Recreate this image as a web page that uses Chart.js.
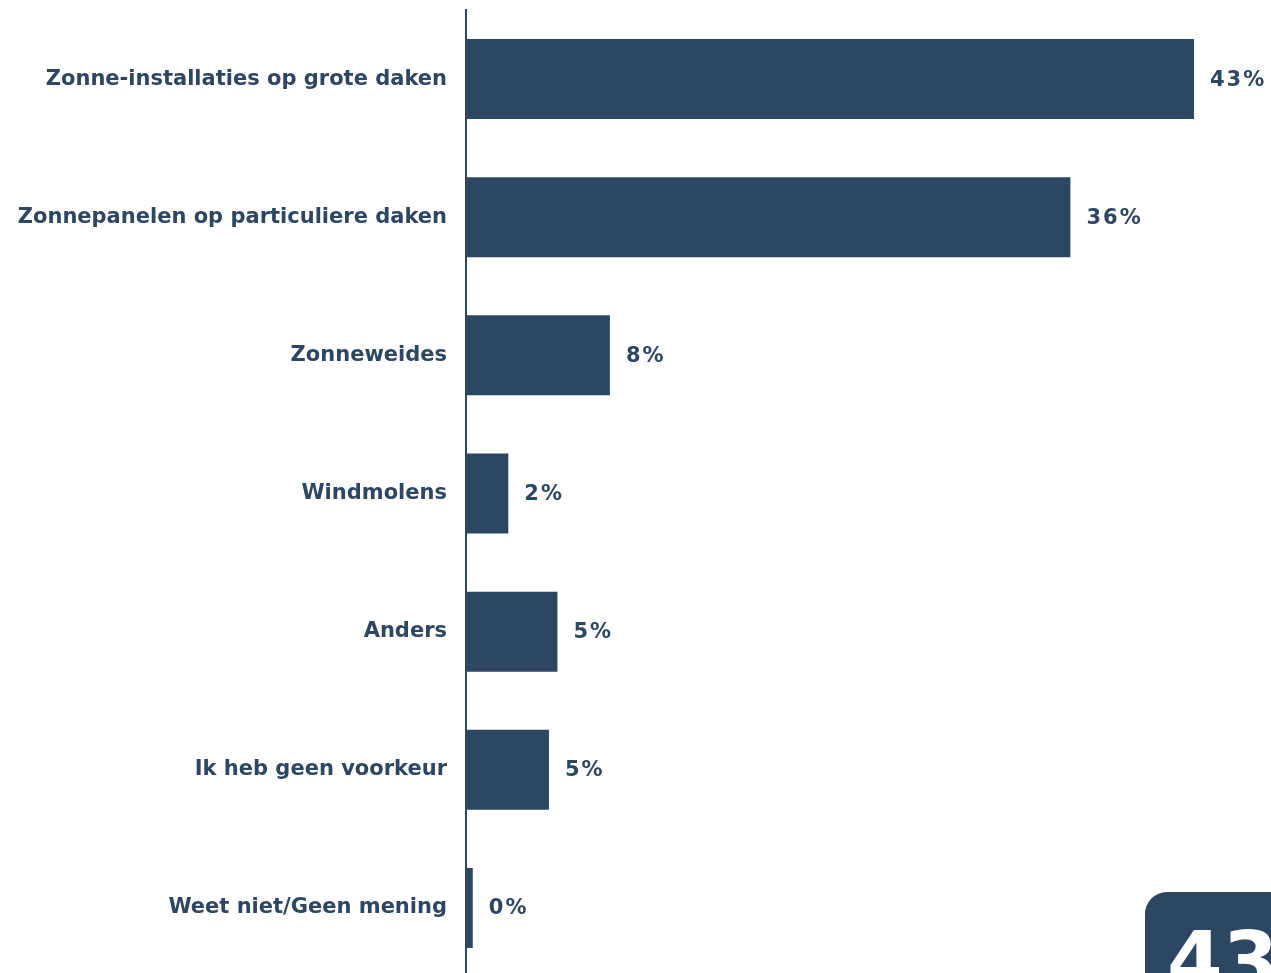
<!DOCTYPE html>
<html>
<head>
<meta charset="utf-8">
<script src="https://cdn.jsdelivr.net/npm/chart.js@4/dist/chart.umd.min.js"></script>
<style>
  html, body { margin: 0; padding: 0; background: #fff; overflow: hidden; }
  #wrap { position: absolute; left: 0; top: 0; width: 1271px; height: 980px; }
  #badge {
    position: absolute; left: 1145px; top: 892px; width: 160px; height: 120px;
    background: #2d4662; border-radius: 22px;
    color: #fff; font: bold 80px "DejaVu Sans", Verdana, sans-serif;
    padding-left: 22px; padding-top: 30px; box-sizing: border-box; line-height: 1;
  }
</style>
</head>
<body>
<div id="wrap"><canvas id="answers"></canvas></div>
<div id="badge">43</div>
<script>
// antwoorden
const categories = ['Zonne-installaties op grote daken', 'Zonnepanelen op particuliere daken', 'Zonneweides', 'Windmolens', 'Anders', 'Ik heb geen voorkeur', 'Weet niet/Geen mening'];
const values = [43, 35.7, 8.5, 2.5, 5.4, 4.9, 0.4];
const valueLabels = ['43%', '36%', '8%', '2%', '5%', '5%', '0%'];

const navy = '#2d4662';

// percentages rechts van de balken
const barLabels = {
  id: 'barLabels',
  afterDatasetsDraw(chart) {
    const ctx = chart.ctx;
    ctx.save();
    ctx.fillStyle = navy;
    ctx.font = 'bold 21px "DejaVu Sans", Verdana, sans-serif';
    ctx.letterSpacing = '2px';
    ctx.textAlign = 'left';
    ctx.textBaseline = 'middle';
    chart.getDatasetMeta(0).data.forEach(function (bar, i) {
      ctx.fillText(valueLabels[i], bar.x + 16, bar.y + 1);
    });
    ctx.restore();
  }
};

const ctx = document.getElementById('answers');
new Chart(ctx, {
  type: 'bar',
  data: {
    labels: categories,
    datasets: [{
      data: values,
      backgroundColor: navy,
      borderWidth: 0,
      categoryPercentage: 1,
      barPercentage: 0.579
    }]
  },
  options: {
    indexAxis: 'y',
    responsive: true,
    maintainAspectRatio: false,
    animation: false,
    layout: { padding: { top: 10, right: 77, bottom: 3, left: 0 } },
    plugins: { legend: { display: false }, tooltip: { enabled: false } },
    scales: {
      x: { display: false, min: 0, max: 43 },
      y: {
        afterFit: function (scale) {
          scale.width = 466;
          scale.paddingTop = 0;
          scale.paddingBottom = 0;
        },
        grid: { display: false, drawTicks: false },
        border: { display: true, color: navy, width: 2 },
        ticks: {
          color: navy,
          padding: 19,
          font: { family: '"DejaVu Sans", Verdana, sans-serif', size: 21, weight: 'bold' }
        }
      }
    }
  },
  plugins: [barLabels]
});
</script>
</body>
</html>
